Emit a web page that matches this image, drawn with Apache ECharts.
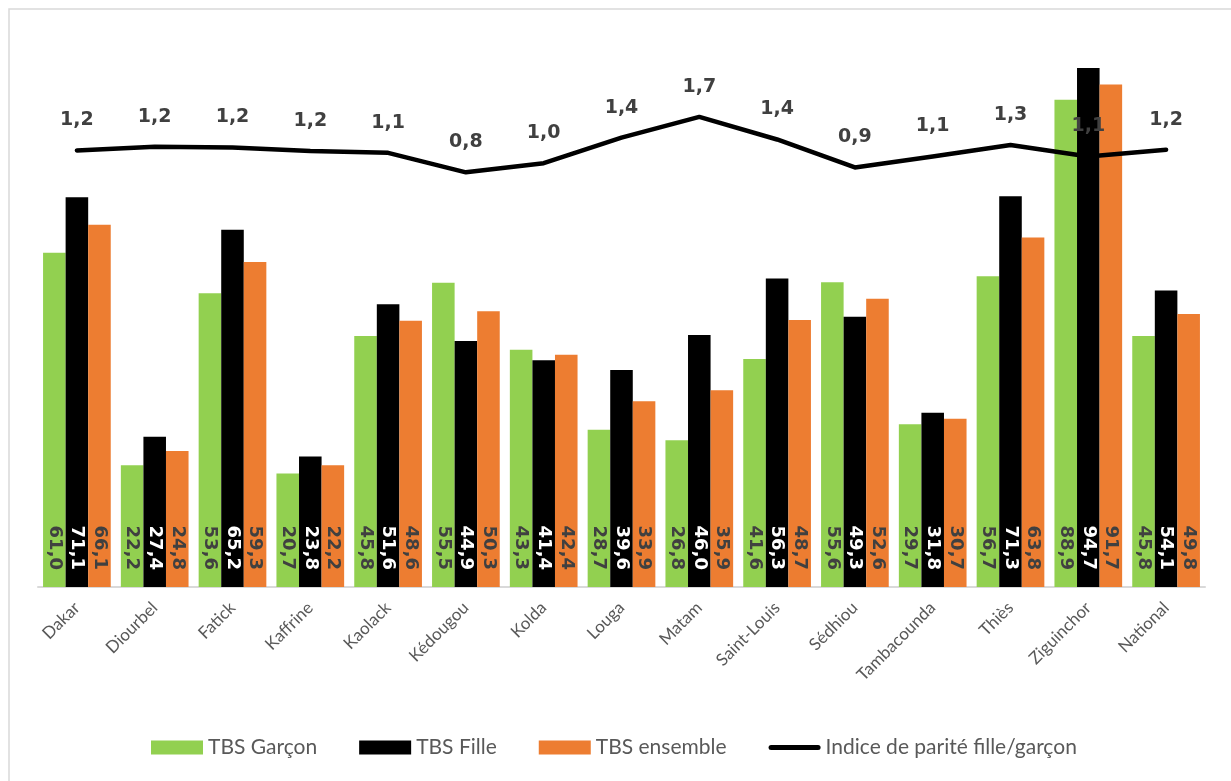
<!DOCTYPE html>
<html>
<head>
<meta charset="utf-8">
<script src="https://cdn.jsdelivr.net/npm/echarts@6/dist/echarts.min.js"></script>
<style>
  html, body { margin: 0; padding: 0; background: #fff; }
  #chart { width: 1231px; height: 781px; }
</style>
</head>
<body>
<div id="chart"></div>
<script>
// Régions et taux bruts de scolarisation (TBS, %) par sexe, avec l'indice de parité
const regions = ['Dakar', 'Diourbel', 'Fatick', 'Kaffrine', 'Kaolack', 'Kédougou', 'Kolda', 'Louga',
  'Matam', 'Saint-Louis', 'Sédhiou', 'Tambacounda', 'Thiès', 'Ziguinchor', 'National'];
const tbsGarcon = [61.0, 22.2, 53.6, 20.7, 45.8, 55.5, 43.3, 28.7, 26.8, 41.6, 55.6, 29.7, 56.7, 88.9, 45.8];
const tbsFille = [71.1, 27.4, 65.2, 23.8, 51.6, 44.9, 41.4, 39.6, 46.0, 56.3, 49.3, 31.8, 71.3, 94.7, 54.1];
const tbsEnsemble = [66.1, 24.8, 59.3, 22.2, 48.6, 50.3, 42.4, 33.9, 35.9, 48.7, 52.6, 30.7, 63.8, 91.7, 49.8];
const indiceParite = [1.17, 1.23, 1.22, 1.16, 1.13, 0.81, 0.96, 1.38, 1.72, 1.35, 0.89, 1.07, 1.26, 1.07, 1.18];

const fr1 = v => Number(v).toFixed(1).replace('.', ',');
const labelFont = '"DejaVu Sans", Verdana, sans-serif';
const textFont = 'Lato, "Open Sans", sans-serif';

// Étiquettes verticales (lecture de haut en bas) calées au pied de chaque barre
function barLabel(color) {
  return {
    show: true,
    position: 'insideBottom',
    rotate: -90,
    align: 'right',
    verticalAlign: 'middle',
    distance: 17,
    color: color,
    fontFamily: labelFont,
    fontWeight: 'bold',
    fontSize: 18,
    formatter: p => fr1(p.value)
  };
}

const chart = echarts.init(document.getElementById('chart'), null, { renderer: 'canvas' });
chart.setOption({
  animation: false,
  backgroundColor: '#ffffff',
  graphic: [{
    type: 'rect',
    silent: true,
    shape: { x: 9, y: 9, width: 1240, height: 800 },
    style: { fill: 'none', stroke: '#d9d9d9', lineWidth: 1.5 }
  }],
  grid: { left: 38, right: 26, top: 39, bottom: 194 },
  legend: {
    left: 146,
    top: 732,
    itemWidth: 52,
    itemHeight: 14,
    itemGap: 42,
    textStyle: { color: '#595959', fontFamily: textFont, fontSize: 21 },
    data: [
      { name: 'TBS Garçon', icon: 'rect' },
      { name: 'TBS Fille', icon: 'rect' },
      { name: 'TBS ensemble', icon: 'rect' },
      { name: 'Indice de parité fille/garçon',
        icon: 'path://M2.5,0 L49.5,0 A2.5,2.5 0 0 1 49.5,5 L2.5,5 A2.5,2.5 0 0 1 2.5,0 Z' }
    ]
  },
  xAxis: {
    type: 'category',
    data: regions,
    axisLine: { lineStyle: { color: '#d9d9d9', width: 2 } },
    axisTick: { show: false },
    axisLabel: {
      rotate: 45,
      margin: 18,
      interval: 0,
      color: '#595959',
      fontFamily: textFont,
      fontSize: 17
    }
  },
  yAxis: [
    { type: 'value', min: 0, max: 100, show: false, splitLine: { show: false } },
    { type: 'value', min: -6, max: 3, show: false, splitLine: { show: false } }
  ],
  series: [
    {
      name: 'TBS Garçon', type: 'bar', data: tbsGarcon,
      barGap: '0%', barCategoryGap: '13%',
      itemStyle: { color: '#92D050' },
      label: barLabel('#404040')
    },
    {
      name: 'TBS Fille', type: 'bar', data: tbsFille,
      barGap: '0%', barCategoryGap: '13%',
      itemStyle: { color: '#000000' },
      label: barLabel('#ffffff')
    },
    {
      name: 'TBS ensemble', type: 'bar', data: tbsEnsemble,
      barGap: '0%', barCategoryGap: '13%',
      itemStyle: { color: '#ED7D31' },
      label: barLabel('#404040')
    },
    {
      name: 'Indice de parité fille/garçon', type: 'line', yAxisIndex: 1,
      data: indiceParite,
      symbol: 'circle',
      symbolSize: 1,
      showSymbol: true,
      lineStyle: { color: '#000000', width: 4.5, cap: 'round', join: 'round' },
      itemStyle: { color: '#000000' },
      label: {
        show: true,
        position: 'top',
        distance: 20,
        color: '#404040',
        fontFamily: labelFont,
        fontWeight: 'bold',
        fontSize: 19,
        formatter: p => fr1(p.value)
      },
      z: 5
    }
  ]
});
</script>
</body>
</html>
